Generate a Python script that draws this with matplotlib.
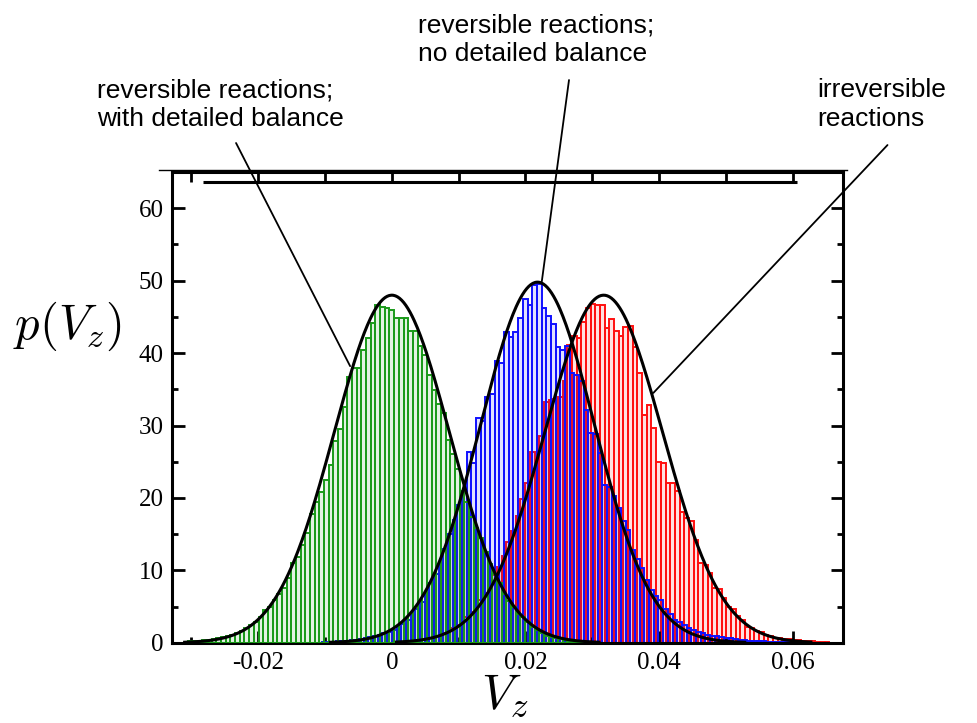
import numpy as np
import matplotlib
matplotlib.use("Agg")
import matplotlib.pyplot as plt
from matplotlib.lines import Line2D
from matplotlib.ticker import MultipleLocator

# histogram bins (width 0.0007), heights
bin_width = 0.0007

green_first = -43
green_vals = [0.2, 0.25, 0.3, 0.35, 0.4, 0.5, 0.6, 0.75, 0.9, 1.1,
              1.3, 1.6, 2.0, 2.4, 2.9, 3.6, 4.5, 5.0, 5.9, 6.8,
              7.5, 9.0, 11.0, 11.8, 13.5, 15.2, 17.8, 19.5, 20.8, 22.5,
              24.5, 27.9, 29.5, 32.6, 36.7, 37.9, 38.0, 40.4, 42.1, 44.2,
              46.7, 46.4, 46.2,
              46.0, 44.9, 44.9, 44.9, 43.0, 43.0, 41.0, 39.7, 37.0, 34.9,
              33.0, 31.7, 28.0, 26.0, 24.0, 21.0, 19.5, 17.3, 15.8, 14.5,
              12.5, 10.9, 9.5, 8.2, 6.8, 5.7, 5.0, 4.0, 3.6, 2.8,
              2.2, 1.8, 1.3, 1.0, 0.8, 0.6, 0.5, 0.4, 0.3, 0.2,
              0.15, 0.1, 0.05]

blue_first = -15
blue_vals = [0.05, 0.1, 0.15, 0.2, 0.25, 0.3, 0.35, 0.4, 0.5, 0.6,
             0.75, 0.9, 1.1, 1.3, 1.5, 1.8, 2.2, 2.6, 3.1, 3.8,
             4.7, 5.6, 6.9, 8.2, 9.5, 11.0, 13.0, 15.0, 17.0, 19.0,
             21.0, 26.3, 24.8, 31.0, 30.6, 34.0, 34.3, 38.9, 38.6, 42.9,
             42.2, 42.9, 44.8, 47.5, 46.6, 49.4, 49.6, 46.2, 45.1, 44.0,
             40.9, 40.4, 41.0, 37.2, 37.0, 36.2, 32.2, 28.9, 28.8, 26.2,
             21.8, 21.5, 20.2, 18.6, 16.8, 15.6, 12.8, 11.5, 10.3, 8.7,
             7.3, 6.5, 5.9, 4.6, 4.0, 3.2, 2.8, 2.4, 2.0, 1.8,
             1.5, 1.3, 1.1, 1.0, 0.9, 0.8, 0.6, 0.6, 0.5, 0.4,
             0.4, 0.3, 0.3, 0.2, 0.2, 0.15, 0.1, 0.1, 0.05, 0.05]

red_first = 10
red_vals = [1.0, 1.3, 1.6, 2.0, 2.4, 2.9, 3.5, 4.2, 5.0, 5.9,
            6.9, 8.0, 9.3, 10.5, 12.0, 13.9, 15.5, 17.5, 19.8, 22.0,
            26.4, 26.0, 28.5, 33.3, 33.5, 33.6, 34.0, 36.1, 41.1, 42.3,
            42.1, 44.3, 46.2, 46.8, 46.6, 46.6, 43.4, 44.7, 43.0, 42.3,
            43.6, 43.8, 40.9, 37.2, 31.5, 32.8, 29.6, 25.0, 24.8, 22.1,
            22.1, 21.0, 18.1, 17.2, 16.8, 14.2, 11.0, 10.8, 9.6, 7.6,
            7.4, 6.2, 4.9, 4.7, 3.7, 3.2, 2.2, 2.0, 1.6, 1.5,
            1.1, 1.0, 0.6, 0.6, 0.5, 0.5, 0.4, 0.35, 0.3, 0.25,
            0.2, 0.15, 0.1, 0.05]

# gaussian fits (black lines)
fit_means = [0.0, 0.0218, 0.0317]
fit_peaks = [48.0, 49.8, 48.0]
fit_sigmas = [0.0086, 0.0085, 0.0088]

x_ticks = [-0.02, 0, 0.02, 0.04, 0.06]
x_tick_labels = ["-0.02", "0", "0.02", "0.04", "0.06"]

plt.rcParams['mathtext.fontset'] = 'cm'

fig = plt.figure(figsize=(9.77, 7.23), dpi=100)
ax = fig.add_axes([0.176, 0.111, 0.6868, 0.651])


def draw_hist(first, vals, color, offset, z):
    lefts = (first + np.arange(len(vals))) * bin_width + offset
    ax.bar(lefts, vals, width=bin_width, align='edge',
           facecolor=matplotlib.colors.to_rgba(color, 0.12),
           edgecolor=color, linewidth=1.4, zorder=z)


draw_hist(red_first, red_vals, '#ff1010', -bin_width / 2, 1)
draw_hist(blue_first, blue_vals, '#1010ff', 0.0, 2)
draw_hist(green_first, green_vals, '#1a9a1a', -bin_width / 2, 3)

for mu, pk, sg in zip(fit_means, fit_peaks, fit_sigmas):
    xs = np.linspace(mu - 0.031, mu + 0.031, 400)
    ax.plot(xs, pk * np.exp(-0.5 * ((xs - mu) / sg) ** 2), color='black',
            lw=2.2, zorder=5)

# doubled top line of the original frame
ax.hlines(63.6, -0.0283, 0.0606, color='black', lw=2.2, zorder=6)

ax.set_xlim(-0.0329, 0.0675)
ax.set_ylim(0, 65)

ax.set_xticks(x_ticks)
ax.set_xticklabels(x_tick_labels)
ax.xaxis.set_minor_locator(MultipleLocator(0.01))
ax.yaxis.set_major_locator(MultipleLocator(10))
ax.yaxis.set_minor_locator(MultipleLocator(5))
ax.tick_params(which='both', direction='in', top=False, right=True, width=2)
ax.tick_params(which='major', length=9)
ax.tick_params(which='minor', length=4.5)
ax.tick_params(axis='x', pad=6.5)
ax.tick_params(axis='y', pad=6)
for lab in ax.get_xticklabels() + ax.get_yticklabels():
    lab.set_fontfamily('Liberation Serif')
    lab.set_fontsize(18)
for sp in ax.spines.values():
    sp.set_linewidth(2.2)

top = ax.secondary_xaxis('top')
top.set_xticks(np.arange(-0.03, 0.061, 0.01))
top.tick_params(direction='in', length=7, width=2, labeltop=False)
top.spines['top'].set_visible(False)

fig.text(0.013, 0.548, r'$p(V_z)$', fontsize=35, va='center', ha='left')
fig.text(0.517, 0.02, r'$V_z$', fontsize=36, va='baseline', ha='center')

fig.add_artist(Line2D([0.1627, 0.867], [0.7642, 0.7642], color='black', lw=1.0))

notes = [
    ("reversible reactions;\nwith detailed balance", 0.099, 0.855,
     (-0.00624, 38.2), (0.2416, 0.8022)),
    ("reversible reactions;\nno detailed balance", 0.428, 0.945,
     (0.02244, 49.9), (0.5824, 0.8893)),
    ("irreversible\nreactions", 0.837, 0.855,
     (0.03913, 34.5), (0.9084, 0.7994)),
]
for txt, tx, ty, xy, start in notes:
    fig.text(tx, ty, txt, fontsize=19, family='Liberation Sans',
             va='center', ha='left', linespacing=1.25)
    ax.annotate('', xy=xy, xycoords='data', xytext=start,
                textcoords='figure fraction',
                arrowprops=dict(arrowstyle='-', lw=1.3, color='black',
                                shrinkA=0, shrinkB=0))

fig.savefig('out.png', dpi=100)
